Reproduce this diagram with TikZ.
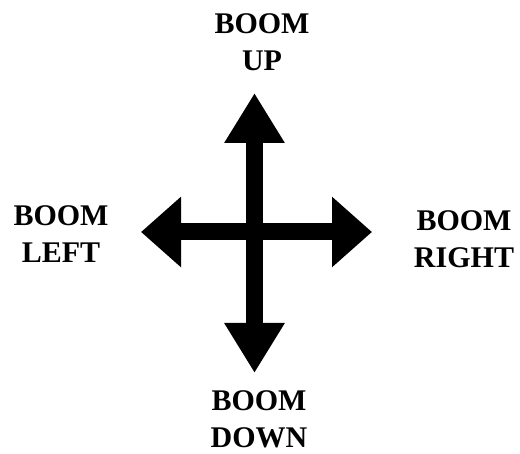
\documentclass[tikz,border=0pt]{standalone}
\usepackage{fontspec}
\setmainfont{Liberation Serif}
\usepackage{tikz}
\usetikzlibrary{arrows.meta}

\begin{document}
\begin{tikzpicture}[
  x=1pt, y=-1pt,
  label/.style = {font=\fontsize{30pt}{37pt}\selectfont\bfseries, align=center, inner sep=0pt},
  vshaft/.style = {line width=17pt, {Triangle[length=50pt, width=57pt]}-{Triangle[length=50pt, width=57pt]}},
  hshaft/.style = {line width=17pt, {Triangle[length=40pt, width=68pt]}-{Triangle[length=40pt, width=68pt]}}
]
\useasboundingbox (0,0) rectangle (520,454);

\coordinate (uptip)    at (254.5, 93);
\coordinate (downtip)  at (254.5,373);
\coordinate (lefttip)  at (141,232);
\coordinate (righttip) at (372,232);

\node[label] (boomup)    at (262, 42) {BOOM\\UP};
\node[label] (boomleft)  at (61, 234) {BOOM\\LEFT};
\node[label] (boomright) at (464,239) {BOOM\\RIGHT};
\node[label] (boomdown)  at (259,419) {BOOM\\DOWN};

\draw[vshaft] (downtip) -- (uptip);
\draw[hshaft] (lefttip) -- (righttip);
\end{tikzpicture}
\end{document}
